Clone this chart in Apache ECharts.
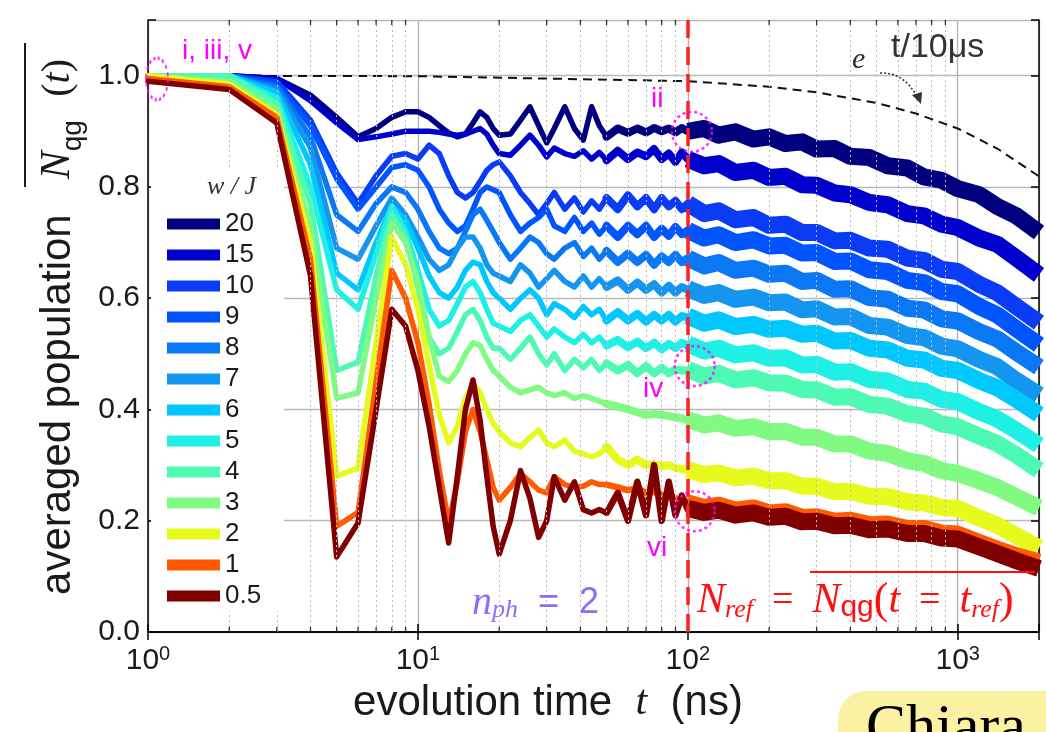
<!DOCTYPE html>
<html><head><meta charset="utf-8">
<script src="https://cdn.jsdelivr.net/npm/echarts@6/dist/echarts.min.js"></script>
<style>html,body{margin:0;padding:0;background:#fff}#c{width:1046px;height:732px}</style>
</head><body><div id="c"></div>
<script>
// ---------------- data ----------------
const wLabels = ['20','15','10','9','8','7','6','5','4','3','2','1','0.5'];
const colors = ['#00007f','#0000cc','#0a3cf5','#0055ff','#0a78f5','#1496f0','#00c8ff','#1ef0e6','#4dfab4','#80fa80','#e6fa1e','#ff5a00','#800000'];

const tEarly = [1,2,3,4,5,6,7,8,9,10, 11,12,13,14,15,16,17,18,19,20, 22,24,26,28,30,32,35,38,41,44, 47,50,55,60,65,70,75,80,85,90, 95,100];
const early20 = [1.0,1.0,.995,.965,.925,.89,.905,.925,.935,.935, .925,.91,.897,.89,.895,.915,.935,.925,.905,.893, .895,.92,.944,.91,.879,.905,.944,.905,.884,.944, .91,.89,.905,.897,.905,.898,.906,.9,.905,.898, .906,.9];
const early15 = [1.0,1.0,.995,.955,.915,.885,.89,.895,.9,.9, .9,.898,.895,.893,.895,.9,.905,.895,.875,.86, .857,.875,.893,.875,.854,.87,.86,.855,.865,.85, .862,.848,.865,.85,.862,.855,.868,.85,.86,.845, .862,.85];
const early10 = [1.0,1.0,.99,.92,.825,.77,.82,.855,.86,.85, .875,.86,.82,.79,.78,.79,.81,.83,.84,.845, .82,.79,.77,.75,.77,.79,.76,.78,.755,.775, .76,.78,.76,.785,.765,.78,.76,.78,.765,.775, .76,.77];
const early9 = [1.0,1.0,.985,.91,.815,.76,.80,.835,.84,.83, .80,.76,.735,.72,.73,.76,.79,.80,.795,.79, .75,.72,.735,.745,.76,.73,.72,.745,.72,.735, .715,.73,.71,.73,.715,.73,.71,.725,.712,.728, .715,.722];
const early8 = [1.0,1.0,.98,.89,.75,.72,.77,.80,.79,.76, .72,.69,.68,.69,.72,.75,.76,.74,.72,.70, .67,.69,.71,.70,.68,.67,.69,.70,.675,.69, .67,.685,.665,.68,.665,.678,.66,.675,.665,.678, .665,.672];
const early7 = [1.0,1.0,.975,.87,.69,.67,.73,.78,.75,.71, .67,.65,.66,.69,.71,.71,.69,.66,.645,.64, .63,.66,.645,.62,.635,.65,.63,.62,.64,.62, .635,.62,.632,.615,.628,.615,.625,.61,.622,.61, .62,.615];
const early6 = [1.0,1.0,.97,.84,.645,.615,.70,.765,.74,.69, .64,.61,.60,.62,.65,.665,.66,.63,.61,.60, .58,.60,.615,.60,.57,.59,.58,.565,.585,.57, .58,.56,.575,.56,.572,.558,.57,.56,.57,.558, .568,.565];
const early5 = [1.0,1.0,.96,.80,.615,.58,.68,.765,.72,.65, .58,.55,.56,.59,.62,.63,.61,.58,.555,.55, .54,.56,.57,.55,.53,.545,.53,.52,.535,.52, .53,.515,.525,.512,.522,.51,.52,.508,.518,.51, .52,.515];
const early4 = [1.0,1.0,.95,.77,.47,.485,.64,.75,.71,.62, .53,.50,.51,.54,.57,.58,.56,.53,.51,.51, .49,.51,.53,.50,.48,.50,.47,.49,.475,.49, .47,.483,.47,.48,.465,.478,.465,.475,.465,.472, .47,.47];
const early3 = [1.0,.99,.94,.73,.42,.43,.60,.735,.70,.63, .53,.46,.45,.47,.50,.52,.515,.49,.47,.46, .44,.43,.435,.44,.43,.425,.43,.42,.425,.42, .415,.41,.405,.40,.395,.39,.392,.39,.388,.386, .384,.38];
const early2 = [1.0,.985,.93,.70,.28,.295,.52,.71,.66,.58, .48,.39,.34,.37,.42,.447,.43,.40,.375,.36, .34,.333,.35,.363,.34,.333,.345,.325,.32,.315, .32,.333,.31,.30,.31,.30,.302,.298,.30,.295, .293,.29];
const early1 = [.995,.98,.925,.67,.19,.215,.45,.65,.60,.52, .41,.29,.196,.27,.36,.40,.36,.31,.26,.237, .26,.285,.27,.255,.25,.279,.265,.26,.262,.27, .265,.265,.26,.255,.258,.25,.252,.245,.248,.24, .238,.235];
const early05 = [.99,.975,.915,.64,.135,.196,.40,.58,.55,.47, .37,.26,.16,.28,.40,.453,.38,.28,.19,.14, .20,.29,.24,.17,.20,.279,.237,.27,.22,.214, .22,.214,.25,.20,.27,.21,.30,.20,.27,.21, .245,.22];

const tLate = [100,115,130,150,175,200,230,265,300,350,400,470,550,650,750,870,1000,1200,1400,1650,2000];
const late20 = [.900,.905,.893,.899,.886,.890,.878,.881,.868,.869,.855,.853,.838,.834,.818,.812,.797,.786,.765,.748,.718];
const late15 = [.850,.838,.842,.826,.830,.817,.819,.804,.803,.789,.786,.772,.768,.752,.748,.733,.727,.708,.697,.672,.642];
const late10 = [.770,.752,.757,.741,.745,.731,.733,.718,.718,.703,.704,.690,.688,.672,.668,.652,.648,.625,.610,.585,.556];
const late9 = [.722,.708,.714,.700,.705,.694,.695,.681,.682,.666,.667,.651,.648,.632,.628,.612,.608,.585,.570,.545,.516];
const late8 = [.672,.658,.664,.650,.654,.643,.645,.630,.632,.616,.617,.601,.598,.582,.579,.563,.559,.540,.527,.503,.476];
const late7 = [.617,.605,.610,.598,.602,.592,.593,.579,.581,.566,.567,.551,.548,.533,.529,.514,.509,.490,.477,.452,.426];
const late6 = [.568,.555,.561,.549,.553,.544,.546,.535,.537,.523,.524,.510,.507,.492,.489,.474,.470,.452,.439,.418,.391];
const late5 = [.518,.505,.510,.498,.502,.492,.493,.480,.481,.467,.468,.454,.451,.436,.433,.418,.414,.396,.383,.362,.336];
const late4 = [.472,.460,.465,.453,.457,.448,.447,.436,.435,.422,.423,.409,.406,.392,.388,.374,.369,.352,.339,.318,.291];
const late3 = [.382,.372,.376,.366,.369,.360,.361,.350,.350,.338,.338,.325,.321,.308,.303,.290,.285,.272,.260,.243,.223];
const late2 = [.292,.283,.286,.277,.280,.272,.272,.262,.262,.252,.253,.244,.243,.234,.232,.224,.222,.205,.192,.173,.151];
const late1 = [.232,.224,.228,.219,.223,.214,.216,.206,.207,.199,.201,.193,.194,.186,.186,.178,.176,.161,.149,.137,.126];
const late05 = [.222,.215,.219,.210,.214,.206,.208,.198,.199,.191,.192,.184,.185,.177,.177,.169,.167,.153,.141,.128,.114];

const tDecay = [1,10,100,200,300,500,700,1000,1400,2000];
const vDecay = [1.0,0.999,0.99,0.98,0.97,0.951,0.932,0.905,0.869,0.819];

const xMinor = [2,3,4,5,6,7,8,9,20,30,40,50,60,70,80,90,200,300,400,500,600,700,800,900];
const xTickExps = ['0','1','2','3'];
const yTickLabels = ['0.0','0.2','0.4','0.6','0.8','1.0'];
const markerPts = [[1.08,0.994],[103.5,0.899],[106,0.478],[106,0.217]];
const tRef = 100;
const tNoisyStart = 50;

// ---------------- chart ----------------
const earlyVals = [early20,early15,early10,early9,early8,early7,early6,early5,early4,early3,early2,early1,early05];
const lateVals = [late20,late15,late10,late9,late8,late7,late6,late5,late4,late3,late2,late1,late05];
const FONT = 'Liberation Sans';
const SERIF = 'Liberation Serif';
const TXT = '#1a1a1a';

const series = [];
series.push({
  type:'line', name:'decay', data: tDecay.map((t,i)=>[t,vDecay[i]]), symbol:'none', z:1, silent:true,
  lineStyle:{color:'#111', width:2, type:[9,6]},
  markLine:{silent:true, symbol:'none', label:{show:false}, animation:false,
    lineStyle:{color:'#bcbcbc', type:[2,3], width:1},
    data: xMinor.map(v=>({xAxis:v}))}
});
wLabels.forEach((w,i)=>{
  const pts = tEarly.map((t,j)=>[t, earlyVals[i][j]]);
  series.push({type:'line', name:w, data: pts.filter(p=>p[0]<=tNoisyStart), symbol:'none', showSymbol:false,
    lineStyle:{width:5.5, color:colors[i], join:'round', cap:'round'}, itemStyle:{color:colors[i]}, z:2, silent:true});
  series.push({type:'line', name:w, data: pts.filter(p=>p[0]>=tNoisyStart), symbol:'none', showSymbol:false,
    lineStyle:{width:(i>=11?6.5:8), color:colors[i], join:'round', cap:'round'}, itemStyle:{color:colors[i]}, z:2, silent:true});
});
wLabels.forEach((w,i)=>{
  series.push({type:'line', name:w, data: tLate.map((t,j)=>[t, lateVals[i][j]]), symbol:'none', showSymbol:false,
    lineStyle:{width:17, color:colors[i], join:'round'}, itemStyle:{color:colors[i]}, z:2, silent:true});
});
// minor ticks
series.push({type:'scatter', data: xMinor.map(v=>[v,0]), symbol:'rect', symbolSize:[1.3,5], symbolOffset:[0,-2.5], itemStyle:{color:'#000'}, z:5, silent:true});
series.push({type:'scatter', data: xMinor.map(v=>[v,1.1]), symbol:'rect', symbolSize:[1.3,5], symbolOffset:[0,2.5], itemStyle:{color:'#000'}, z:5, silent:true});
// markers + reference line
series.push({type:'scatter', data: markerPts.map((p,i)=>({value:p, symbolSize: i===0?[22,42]:[40,40]})), symbol:'circle',
  itemStyle:{color:'rgba(0,0,0,0)', borderColor:'#ff00ff', borderWidth:2.5, borderType:[3,3]}, z:20, silent:true, clip:false,
  markLine:{silent:true, symbol:'none', label:{show:false}, animation:false,
    lineStyle:{color:'#ff1f1f', width:3.5, type:[18,9]}, data:[{xAxis:tRef}]}
});

const xLabelFmt = v => { const e = Math.log10(v); const r = Math.round(e); if (Math.abs(e-r) > 1e-6 || r<0 || r>=xTickExps.length) return ''; return '{b|10}{s|'+xTickExps[r]+'}'; };
const yLabelFmt = v => { const i = Math.round(v/0.2); if (Math.abs(v-i*0.2) > 1e-6 || i>=yTickLabels.length) return ''; return yTickLabels[i]; };

const RED = '#ff1010', PUR = '#8a6cff';
const option = {
  animation:false,
  backgroundColor:'#fff',
  textStyle:{fontFamily:FONT},
  grid:{left:148, right:7, top:20, bottom:100, containLabel:false},
  xAxis:[
    {type:'log', logBase:10, min:1, max:2000, position:'bottom',
     axisLine:{show:true, lineStyle:{color:'#000', width:1.5}},
     axisTick:{show:true, inside:true, length:8, lineStyle:{color:'#000', width:1.5}},
     splitLine:{show:true, lineStyle:{color:'#b0b0b0', width:1.3}},
     axisLabel:{formatter:xLabelFmt, margin:12, color:TXT,
       rich:{b:{fontSize:30, fontFamily:FONT, color:TXT, lineHeight:34}, s:{fontSize:20, fontFamily:FONT, color:TXT, verticalAlign:'top', lineHeight:20}}}},
    {type:'log', logBase:10, min:1, max:2000, position:'top',
     axisLine:{show:true, lineStyle:{color:'#000', width:1.5}},
     axisTick:{show:true, inside:true, length:8, lineStyle:{color:'#000', width:1.5}},
     splitLine:{show:false}, axisLabel:{show:false}}
  ],
  yAxis:[
    {type:'value', min:0, max:1.1, interval:0.2, position:'left',
     axisLine:{show:true, lineStyle:{color:'#000', width:1.5}},
     axisTick:{show:true, inside:true, length:8, lineStyle:{color:'#000', width:1.5}},
     splitLine:{show:true, lineStyle:{color:'#b8b8b8', width:1.3}},
     axisLabel:{formatter:yLabelFmt, fontSize:30, fontFamily:FONT, color:TXT, margin:8}},
    {type:'value', min:0, max:1.1, interval:0.2, position:'right',
     axisLine:{show:true, lineStyle:{color:'#000', width:1.5}},
     axisTick:{show:true, inside:true, length:8, lineStyle:{color:'#000', width:1.5}},
     splitLine:{show:false}, axisLabel:{show:false}}
  ],
  legend:{
    data: wLabels, orient:'vertical', left:151, top:170, padding:[41,23,2,16],
    backgroundColor:'#fff', icon:'rect', itemWidth:53, itemHeight:11, itemGap:5,
    textStyle:{fontSize:26, fontFamily:FONT, color:TXT, lineHeight:24, padding:[0,0,0,0]},
    selectedMode:false, z:6
  },
  graphic:[
    {type:'text', z:100, x:58, y:327, rotation:Math.PI/2,
     style:{text:'{a|averaged population}{g|   }{n|N}{q|qg}{g|  }{p|(}{t|t}{p|)}', align:'center', verticalAlign:'middle', textAlign:'center', textVerticalAlign:'middle',
       rich:{a:{fontSize:42, fontFamily:FONT, fill:TXT, color:TXT},
             g:{fontSize:42, fontFamily:FONT},
             n:{fontSize:42, fontFamily:SERIF, fontStyle:'italic', fill:TXT, color:TXT},
             q:{fontSize:28, fontFamily:FONT, fill:TXT, color:TXT, verticalAlign:'bottom', padding:[0,0,-8,0]},
             p:{fontSize:40, fontFamily:SERIF, fill:TXT, color:TXT},
             t:{fontSize:40, fontFamily:SERIF, fontStyle:'italic', fill:TXT, color:TXT}}}},
    {type:'line', z:100, shape:{x1:25, y1:43, x2:25, y2:187}, style:{stroke:TXT, lineWidth:2}},
    {type:'text', z:100, x:548, y:703,
     style:{text:'{a|evolution time  }{t|t}{a|  (ns)}', align:'center', verticalAlign:'middle', textAlign:'center', textVerticalAlign:'middle',
       rich:{a:{fontSize:42, fontFamily:FONT, fill:TXT, color:TXT}, t:{fontSize:42, fontFamily:SERIF, fontStyle:'italic', fill:TXT, color:TXT}}}},
    {type:'text', z:100, x:207, y:187,
     style:{text:'w / J', fontSize:26, fontFamily:SERIF, fontStyle:'italic', fill:'#333', align:'left', verticalAlign:'middle', textAlign:'left', textVerticalAlign:'middle'}},
    {type:'text', z:100, x:182, y:51,
     style:{text:'i, iii, v', fontSize:28, fontFamily:FONT, fill:'#ff00ff', align:'left', verticalAlign:'middle', textAlign:'left', textVerticalAlign:'middle'}},
    {type:'text', z:100, x:651, y:99,
     style:{text:'ii', fontSize:28, fontFamily:FONT, fill:'#ff00ff', align:'left', verticalAlign:'middle', textAlign:'left', textVerticalAlign:'middle'}},
    {type:'text', z:100, x:643, y:389,
     style:{text:'iv', fontSize:28, fontFamily:FONT, fill:'#ff00ff', align:'left', verticalAlign:'middle', textAlign:'left', textVerticalAlign:'middle'}},
    {type:'text', z:100, x:647, y:548,
     style:{text:'vi', fontSize:28, fontFamily:FONT, fill:'#ff00ff', align:'left', verticalAlign:'middle', textAlign:'left', textVerticalAlign:'middle'}},
    {type:'text', z:100, x:472, y:603,
     style:{text:'{n|n}{s|ph}{e|  =  2}', align:'left', verticalAlign:'middle', textAlign:'left', textVerticalAlign:'middle',
       rich:{n:{fontSize:40, fontFamily:SERIF, fontStyle:'italic', fill:PUR, color:PUR},
             s:{fontSize:26, fontFamily:SERIF, fontStyle:'italic', fill:PUR, color:PUR, verticalAlign:'bottom'},
             e:{fontSize:36, fontFamily:FONT, fill:PUR, color:PUR}}}},
    {type:'text', z:100, x:697, y:601,
     style:{text:'{N|N}{s|ref}{e|  =  }{N|N}{q|qg}{p|(}{t|t}{e|  =  }{t|t}{s|ref}{p|)}', align:'left', verticalAlign:'middle', textAlign:'left', textVerticalAlign:'middle',
       rich:{N:{fontSize:42, fontFamily:SERIF, fontStyle:'italic', fill:RED, color:RED},
             s:{fontSize:26, fontFamily:SERIF, fontStyle:'italic', fill:RED, color:RED, verticalAlign:'bottom'},
             q:{fontSize:30, fontFamily:FONT, fill:RED, color:RED, verticalAlign:'bottom'},
             e:{fontSize:38, fontFamily:SERIF, fill:RED, color:RED},
             p:{fontSize:44, fontFamily:SERIF, fill:RED, color:RED},
             t:{fontSize:42, fontFamily:SERIF, fontStyle:'italic', fill:RED, color:RED}}}},
    {type:'line', z:100, shape:{x1:810, y1:572, x2:1035, y2:572}, style:{stroke:RED, lineWidth:2}},
    {type:'text', z:100, x:852, y:60,
     style:{text:'e', fontSize:30, fontFamily:SERIF, fontStyle:'italic', fill:'#333', align:'left', verticalAlign:'middle', textAlign:'left', textVerticalAlign:'middle'}},
    {type:'text', z:100, x:891, y:48,
     style:{text:'t/10\u03bcs', fontSize:34, fontFamily:FONT, fill:'#333', align:'left', verticalAlign:'middle', textAlign:'left', textVerticalAlign:'middle'}},
    {type:'bezierCurve', z:100, shape:{x1:880, y1:73, cpx1:905, cpy1:72, x2:918, y2:99}, style:{stroke:'#333', lineWidth:1.6, lineDash:[2,2], fill:null}},
    {type:'polygon', z:100, shape:{points:[[921,104],[912,95],[922,92]]}, style:{fill:'#333'}},
    {type:'rect', z:100, shape:{x:838, y:691, width:260, height:80, r:28}, style:{fill:'#fbf1a2'}},
    {type:'text', z:101, x:866, y:729,
     style:{text:'Chiara', fontSize:60, fontFamily:SERIF, fill:'#000', align:'left', verticalAlign:'middle', textAlign:'left', textVerticalAlign:'middle'}}
  ],
  series: series
};
const chart = echarts.init(document.getElementById('c'), null, {renderer:'canvas'});
chart.setOption(option);
</script>
</body></html>
